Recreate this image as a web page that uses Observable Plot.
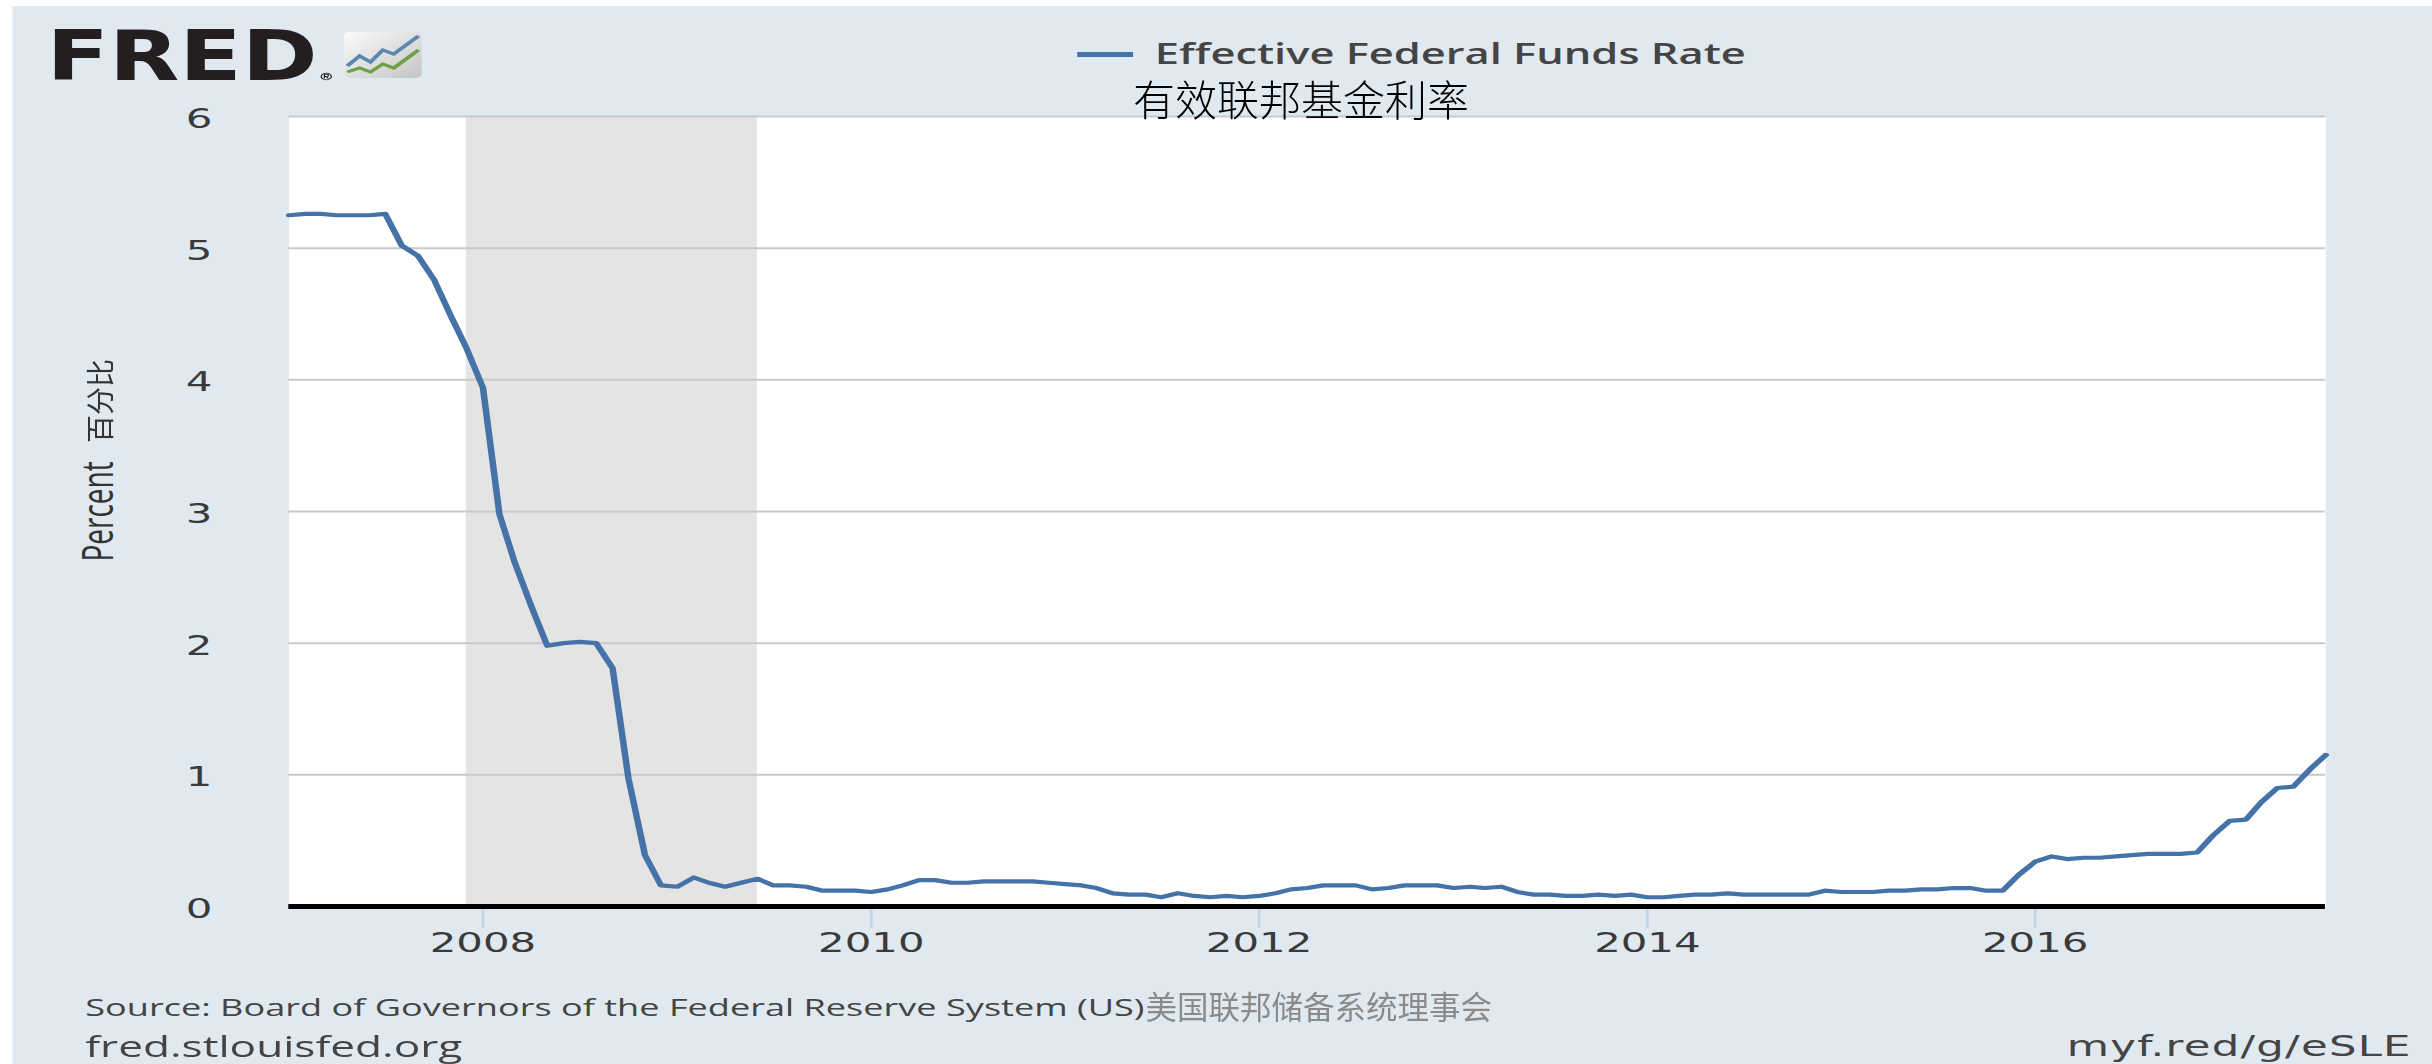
<!DOCTYPE html>
<html>
<head>
<meta charset="utf-8">
<script src="https://cdn.jsdelivr.net/npm/d3@7"></script>
<script src="https://cdn.jsdelivr.net/npm/@observablehq/plot@0.6"></script>
<style>
  html, body { margin: 0; padding: 0; background: #ffffff; width: 2432px; height: 1064px; overflow: hidden; }
  #stage { position: absolute; left: 0; top: 0; width: 1569px; height: 1064px; transform: scaleX(1.55); transform-origin: 0 0; }
  #panel { position: absolute; left: 7.7px; top: 6px; right: 0; bottom: 0; background: #e1e9f0; }
  #logo { position: absolute; left: 0; top: 0; }
  #legendLine { position: absolute; left: 695px; top: 52px; width: 36px; height: 5px; background: #4572a7; }
  #legendText { position: absolute; left: 745px; top: 41px; font-family: "Open Sans", sans-serif; font-weight: 600; font-size: 28px; line-height: 24px; color: #444; white-space: nowrap; }
  #chart { position: absolute; left: 0; top: 90px; }
  #source { position: absolute; left: 55px; top: 995.6px; font-family: "Open Sans", sans-serif; font-size: 23.3px; line-height: 23px; color: #444; white-space: nowrap; }
  #fredorg { position: absolute; left: 55px; top: 1032px; font-family: "Open Sans", sans-serif; font-size: 28.5px; line-height: 28px; color: #444; white-space: nowrap; }
  #short { position: absolute; right: 13px; top: 1033px; font-family: "DejaVu Sans", sans-serif; font-size: 28px; line-height: 28px; letter-spacing: 0.8px; color: #444; white-space: nowrap; }
  .cn { position: absolute; font-family: "Noto Sans CJK SC", sans-serif; white-space: nowrap; }
  #cnTitle { left: 1133px; top: 77px; font-size: 42px; line-height: 42px; color: #000; font-weight: 300; }
  #cnY { left: 57px; top: 386.5px; width: 84px; height: 28px; font-size: 28px; line-height: 28px; color: #333; transform: rotate(-90deg); transform-origin: 50% 50%; text-align: center; }
  #cnSource { left: 1141px; top: 990px; font-size: 31.5px; line-height: 31.5px; color: #8a8a8a; }
</style>
</head>
<body>
<div id="stage">
  <div id="panel"></div>
  <svg id="logo" width="300" height="100">
    <defs>
      <linearGradient id="ig" x1="0" y1="0" x2="1" y2="1">
        <stop offset="0" stop-color="#fbfbfb"/>
        <stop offset="1" stop-color="#c4c4c4"/>
      </linearGradient>
    </defs>
    <text x="30" y="80" font-family="DejaVu Sans" font-weight="bold" font-size="69" textLength="175" lengthAdjust="spacingAndGlyphs" fill="#231f20">FRED</text>
    <g fill="none" stroke="#231f20" stroke-width="0.8">
      <circle cx="210.5" cy="76.5" r="3.3"/>
      <path d="M209.3,78.6 V74.4 H210.9 A1.05,1.05 0 0 1 210.9,76.5 H209.3 M210.6,76.5 L211.9,78.6"/>
    </g>
    <rect x="222" y="32" width="50" height="46" rx="4" fill="url(#ig)"/>
    <polyline points="224,66 232,56 239,62 247,50 254,54 270,36" fill="none" stroke="#5b87b0" stroke-width="3"/>
    <polyline points="224,72 232,68 239,72 247,64 254,68 270,50" fill="none" stroke="#6ea046" stroke-width="3"/>
  </svg>
  <div id="legendLine"></div>
  <div id="legendText">Effective Federal Funds Rate</div>
  <div id="chart"></div>
  <div id="source"><span id="sourceEn">Source: Board of Governors of the Federal Reserve System (US)</span></div>
  <div id="fredorg">fred.stlouisfed.org</div>
  <div id="short">myf.red/g/eSLE</div>
</div>
<div id="cnTitle" class="cn">有效联邦基金利率</div>
<div id="cnY" class="cn">百分比</div>
<div id="cnSource" class="cn">美国联邦储备系统理事会</div>
<script>
// Effective Federal Funds Rate, monthly, percent
const years = [2007, 2008, 2009, 2010, 2011, 2012, 2013, 2014, 2015, 2016, 2017];
const rates2007 = [5.25, 5.26, 5.26, 5.25, 5.25, 5.25, 5.26, 5.02, 4.94, 4.76, 4.49, 4.24];
const rates2008 = [3.94, 2.98, 2.61, 2.28, 1.98, 2.00, 2.01, 2.00, 1.81, 0.97, 0.39, 0.16];
const rates2009 = [0.15, 0.22, 0.18, 0.15, 0.18, 0.21, 0.16, 0.16, 0.15, 0.12, 0.12, 0.12];
const rates2010 = [0.11, 0.13, 0.16, 0.20, 0.20, 0.18, 0.18, 0.19, 0.19, 0.19, 0.19, 0.18];
const rates2011 = [0.17, 0.16, 0.14, 0.10, 0.09, 0.09, 0.07, 0.10, 0.08, 0.07, 0.08, 0.07];
const rates2012 = [0.08, 0.10, 0.13, 0.14, 0.16, 0.16, 0.16, 0.13, 0.14, 0.16, 0.16, 0.16];
const rates2013 = [0.14, 0.15, 0.14, 0.15, 0.11, 0.09, 0.09, 0.08, 0.08, 0.09, 0.08, 0.09];
const rates2014 = [0.07, 0.07, 0.08, 0.09, 0.09, 0.10, 0.09, 0.09, 0.09, 0.09, 0.09, 0.12];
const rates2015 = [0.11, 0.11, 0.11, 0.12, 0.12, 0.13, 0.13, 0.14, 0.14, 0.12, 0.12, 0.24];
const rates2016 = [0.34, 0.38, 0.36, 0.37, 0.37, 0.38, 0.39, 0.40, 0.40, 0.40, 0.41, 0.54];
const rates2017 = [0.65, 0.66, 0.79, 0.90, 0.91, 1.04, 1.15];
const ratesByYear = [rates2007, rates2008, rates2009, rates2010, rates2011, rates2012, rates2013, rates2014, rates2015, rates2016, rates2017];

const recessionStarts = ["2007-12-01"];
const recessionEnds = ["2009-06-01"];
const xDomain = ["2007-01-01", "2017-07-01"];
const xTickYears = ["2008-01-01", "2010-01-01", "2012-01-01", "2014-01-01", "2016-01-01"];
const yTicks = [0, 1, 2, 3, 4, 5, 6];
const gridValues = [1, 2, 3, 4, 5, 6];

const series = [];
years.forEach((yr, i) => ratesByYear[i].forEach((v, m) => series.push({date: new Date(Date.UTC(yr, m, 1)), rate: v})));
const recessions = recessionStarts.map((s, i) => ({start: new Date(s), end: new Date(recessionEnds[i])}));
const tickDates = xTickYears.map((d) => new Date(d));

const W = 2432 / 1.55;
const chart = Plot.plot({
  width: W,
  height: 880,
  marginTop: 26,
  marginBottom: 64,
  marginLeft: 186,
  marginRight: W - 1500,
  style: {background: "transparent", fontFamily: "DejaVu Sans", fontSize: "27px", color: "#3a3a3a", overflow: "visible"},
  x: {type: "utc", domain: xDomain.map((d) => new Date(d))},
  y: {domain: [0, 6]},
  marks: [
    Plot.frame({fill: "white", stroke: "none"}),
    Plot.rect(recessions, {x1: "start", x2: "end", fill: "#e4e4e4"}),
    Plot.ruleY(gridValues, {stroke: "#c9c9c9", strokeWidth: 2}),
    Plot.axisX({ticks: tickDates, tickSize: 22, tickPadding: 4, tickFormat: d3.utcFormat("%Y"), stroke: "#c3d3e3", strokeWidth: 1.6, fill: "#3a3a3a", label: null}),
    Plot.axisY({ticks: yTicks, tickSize: 0, tickPadding: 58, tickFormat: d3.format("d"), textAnchor: "middle", dy: 3, fill: "#3a3a3a", label: null}),
    Plot.text(["Percent"], {frameAnchor: "left", rotate: -90, dx: -(186 - 72.3), lineAnchor: "bottom", textAnchor: "middle", fontFamily: "Open Sans", fontSize: 28, fill: "#333"}),
    Plot.lineY(series, {x: "date", y: "rate", stroke: "#4572a7", strokeWidth: 4.2}),
    Plot.ruleY([0], {stroke: "#000", strokeWidth: 5})
  ]
});
document.getElementById("chart").appendChild(chart);

// place the Chinese part of the source line right after "(US)"
const en = document.getElementById("sourceEn").getBoundingClientRect();
document.getElementById("cnSource").style.left = (en.right + 1) + "px";
</script>
</body>
</html>
